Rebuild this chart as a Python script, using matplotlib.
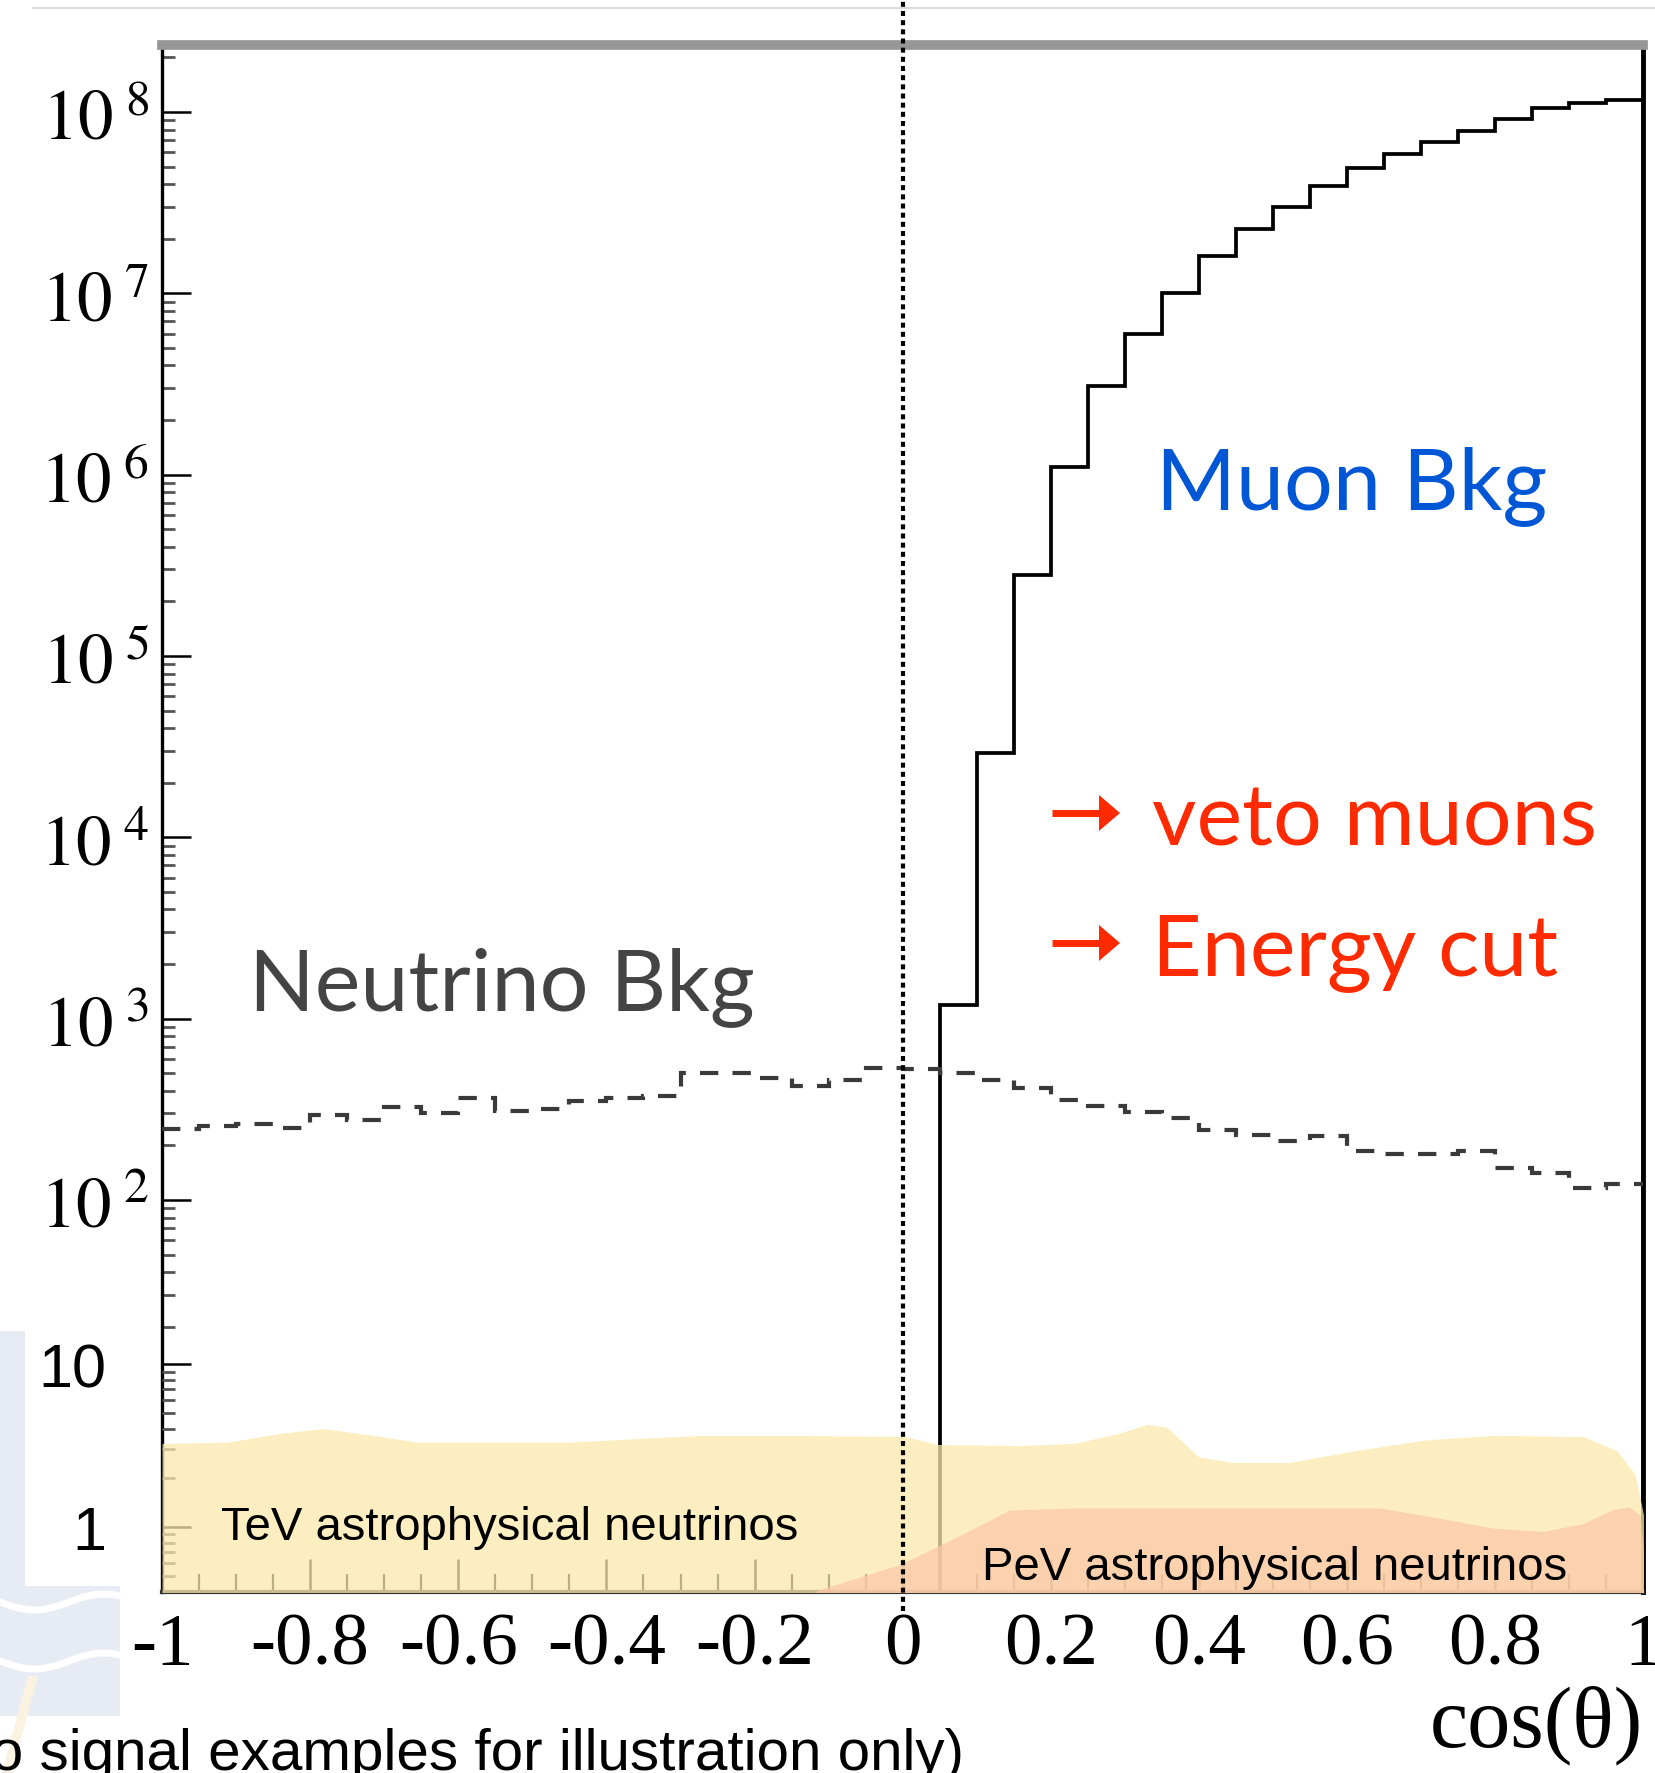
import matplotlib.pyplot as plt
import numpy as np
from matplotlib.patches import Rectangle, Polygon
from matplotlib.lines import Line2D
from matplotlib.ticker import FixedLocator, MultipleLocator, NullFormatter

plt.rcParams['mathtext.fontset'] = 'stix'

W, H = 1656, 1774

# cos(zenith) binning, 0.05 wide
edges_all = np.round(np.arange(-1.0, 1.0001, 0.05), 2)
edges_muon = np.round(np.arange(0.05, 1.0001, 0.05), 2)

# atmospheric neutrino background per bin (cos from -1 to 1)
nu_bkg = [245, 257, 263, 251, 295, 275, 327, 302, 363, 309,
          316, 351, 367, 376, 501, 501, 473, 427, 457, 537,
          525, 501, 457, 412, 355, 331, 305, 282, 243, 229,
          211, 224, 186, 180, 180, 186, 151, 141, 116, 123]

# atmospheric muon background, only from above (cos > 0.05)
mu_bkg = [1.19e3, 2.9e4, 2.8e5, 1.1e6, 3.1e6, 6.0e6, 1.0e7, 1.6e7, 2.26e7, 3.0e7,
          3.9e7, 4.9e7, 5.9e7, 6.8e7, 7.9e7, 9.2e7, 1.05e8, 1.12e8, 1.17e8]

# illustrative signal shapes (inset scale)
tev_cos = [-1.0, -0.913, -0.837, -0.783, -0.715, -0.653, -0.455, -0.363, -0.272, -0.150,
           0.003, 0.047, 0.156, 0.232, 0.293, 0.331, 0.357, 0.400, 0.446, 0.522,
           0.614, 0.705, 0.797, 0.919, 0.965, 0.989, 1.0]
tev_val = [3.26, 3.31, 3.77, 4.02, 3.65, 3.31, 3.31, 3.48, 3.65, 3.65,
           3.59, 3.21, 3.16, 3.26, 3.77, 4.28, 4.08, 2.69, 2.49, 2.49,
           2.96, 3.42, 3.65, 3.59, 2.92, 2.08, 1.19]
pev_cos = [-0.119, -0.003, 0.079, 0.144, 0.232, 0.461, 0.644, 0.721, 0.797, 0.864,
           0.919, 0.957, 0.980, 0.995, 1.0]
pev_val = [0.403, 0.590, 0.895, 1.27, 1.31, 1.31, 1.31, 1.14, 0.984, 0.938,
           1.05, 1.27, 1.33, 1.19, 0.738]

xtick_vals = [-1, -0.8, -0.6, -0.4, -0.2, 0, 0.2, 0.4, 0.6, 0.8, 1]
xtick_labels = ['-1', '-0.8', '-0.6', '-0.4', '-0.2', '0', '0.2', '0.4', '0.6', '0.8', '1']
decades = [2, 3, 4, 5, 6, 7, 8]


def fx(px):
    return px / W


def fy(py):
    return 1 - py / H


fig = plt.figure(figsize=(W / 100, H / 100), dpi=100)

# faint logo in the lower left corner
logo = '#e7ecf4'
fig.add_artist(Rectangle((0, fy(1587)), fx(25), fy(1332) - fy(1587), transform=fig.transFigure,
                         color=logo, lw=0, zorder=-2))
fig.add_artist(Rectangle((0, fy(1717)), fx(120), fy(1587) - fy(1717), transform=fig.transFigure,
                         color=logo, lw=0, zorder=-2))
wx = np.linspace(0, 120, 40)
for y0 in (1603, 1662):
    fig.add_artist(Line2D(fx(wx), fy(y0 + 8 * np.sin(wx / 22.0)), transform=fig.transFigure,
                          color='white', lw=5, zorder=-1))
fig.add_artist(Polygon([(fx(28), fy(1677)), (fx(38), fy(1677)), (fx(12), fy(1774)), (fx(2), fy(1774))],
                       transform=fig.transFigure, color='#fbf3e2', lw=0, zorder=-1))
fig.add_artist(Line2D([fx(33), 1], [fy(9), fy(9)], transform=fig.transFigure, color='#dcdcdc', lw=1.5))

# main histogram frame
left, right, top, bottom = 162, 1643.5, 46.4, 1592.5
ax = fig.add_axes([fx(left), fy(bottom), fx(right) - fx(left), fy(top) - fy(bottom)])
ax.set_xlim(-1, 1)
ax.set_yscale('log')
ax.set_ylim(10 ** -0.159, 10 ** 8.367)

ax.stairs(mu_bkg, edges_muon, baseline=1e-3, color='black', lw=2.7, zorder=3)
ax.stairs(nu_bkg, edges_all, baseline=None, color='#3a3a3a', lw=3.0,
          linestyle=(0, (4.4, 3.4)), zorder=3)

ax.set_xticks(xtick_vals, xtick_labels)
ax.xaxis.set_minor_locator(MultipleLocator(0.05))
ax.yaxis.set_major_locator(FixedLocator([10.0 ** d for d in decades]))
ax.set_yticklabels([r'$10^{\,\,%d}$' % d for d in decades])
minors = [k * 10.0 ** d for d in range(1, 9) for k in range(2, 10)]
ax.yaxis.set_minor_locator(FixedLocator([m for m in minors if m >= 20]))
ax.yaxis.set_minor_formatter(NullFormatter())

ax.tick_params(axis='x', which='major', direction='in', length=24, width=1.8, pad=15, labelsize=54)
ax.tick_params(axis='x', which='minor', direction='in', length=13, width=1.6)
ax.tick_params(axis='y', which='major', direction='in', length=21, width=1.8, pad=9, labelsize=51)
ax.tick_params(axis='y', which='minor', direction='in', length=9.5, width=2.0, color='#555555')
for lab in ax.get_xticklabels():
    lab.set_fontfamily('Liberation Serif')
ax.set_xlabel('cos(θ)', loc='right', fontsize=62, family='Liberation Serif', labelpad=4)

ax.spines['top'].set_color('#979797')
ax.spines['top'].set_linewidth(7)
ax.spines['left'].set_linewidth(2.4)
ax.spines['right'].set_linewidth(3.5)
ax.spines['bottom'].set_color('#333333')
ax.spines['bottom'].set_linewidth(3)

# inset with the signal examples, own log scale
inset_top = 1346
ax2 = fig.add_axes([fx(left), fy(bottom), fx(right) - fx(left), fy(inset_top) - fy(bottom)])
ax2.patch.set_visible(False)
ax2.set_xlim(-1, 1)
ax2.set_yscale('log')
ax2.set_ylim(10 ** -0.396, 10 ** 1.117)
for s in ax2.spines.values():
    s.set_visible(False)
ax2.set_xticks([])
ax2.set_yticks([1, 10], ['1', '10'])
ax2.yaxis.set_minor_locator(FixedLocator([0.5, 0.6, 0.7, 0.8, 0.9] + list(range(2, 10))))
ax2.yaxis.set_minor_formatter(NullFormatter())
ax2.tick_params(axis='y', which='major', direction='in', length=21, width=1.8, pad=40, labelsize=44)
ax2.tick_params(axis='y', which='minor', direction='in', length=9.5, width=2.0, color='#555555')
for lab in ax2.get_yticklabels():
    lab.set_fontfamily('Liberation Sans')

ax2.fill_between(tev_cos, tev_val, 0.1, color='#fbe9ac', alpha=0.75, lw=0, zorder=3)
ax2.fill_between(pev_cos, pev_val, 0.1, color='#fbc8a8', alpha=0.75, lw=0, zorder=3.1)
ax2.text(-0.921, 0.844, 'TeV astrophysical neutrinos', fontsize=34, va='baseline',
         family='Liberation Sans', zorder=5)
ax2.text(0.107, 0.48, 'PeV astrophysical neutrinos', fontsize=34, va='baseline',
         family='Liberation Sans', zorder=5)

# horizon line at cos = 0
ax2.axvline(0, ymin=-(1612 - bottom) / (bottom - inset_top), ymax=bottom / (bottom - inset_top),
            clip_on=False, color='black', lw=3.0, linestyle=(0, (1.2, 1.0)), zorder=6)

# annotations
fig.text(fx(249), fy(1010), 'Neutrino Bkg', fontsize=62, color='#444444', family='Lato', va='baseline')
fig.text(fx(1156), fy(509), 'Muon Bkg', fontsize=62, color='#0057d6', family='Lato', va='baseline')
red = '#ff2a00'
for y_arrow, y_text, label in [(814, 846, 'veto muons'), (944, 975, 'Energy cut')]:
    fig.add_artist(Line2D([fx(1052), fx(1102)], [fy(y_arrow), fy(y_arrow)], transform=fig.transFigure,
                          color=red, lw=5, solid_capstyle='butt'))
    fig.add_artist(Polygon([(fx(1099), fy(y_arrow - 18)), (fx(1099), fy(y_arrow + 18)), (fx(1120), fy(y_arrow))],
                           transform=fig.transFigure, color=red, lw=0))
    fig.text(fx(1152), fy(y_text), label, fontsize=62, color=red, family='Lato', va='baseline')

fig.text(fx(964), fy(1770), '(two signal examples for illustration only)', fontsize=42,
         ha='right', va='baseline', family='Liberation Sans')

fig.savefig('out.png', dpi=100)
